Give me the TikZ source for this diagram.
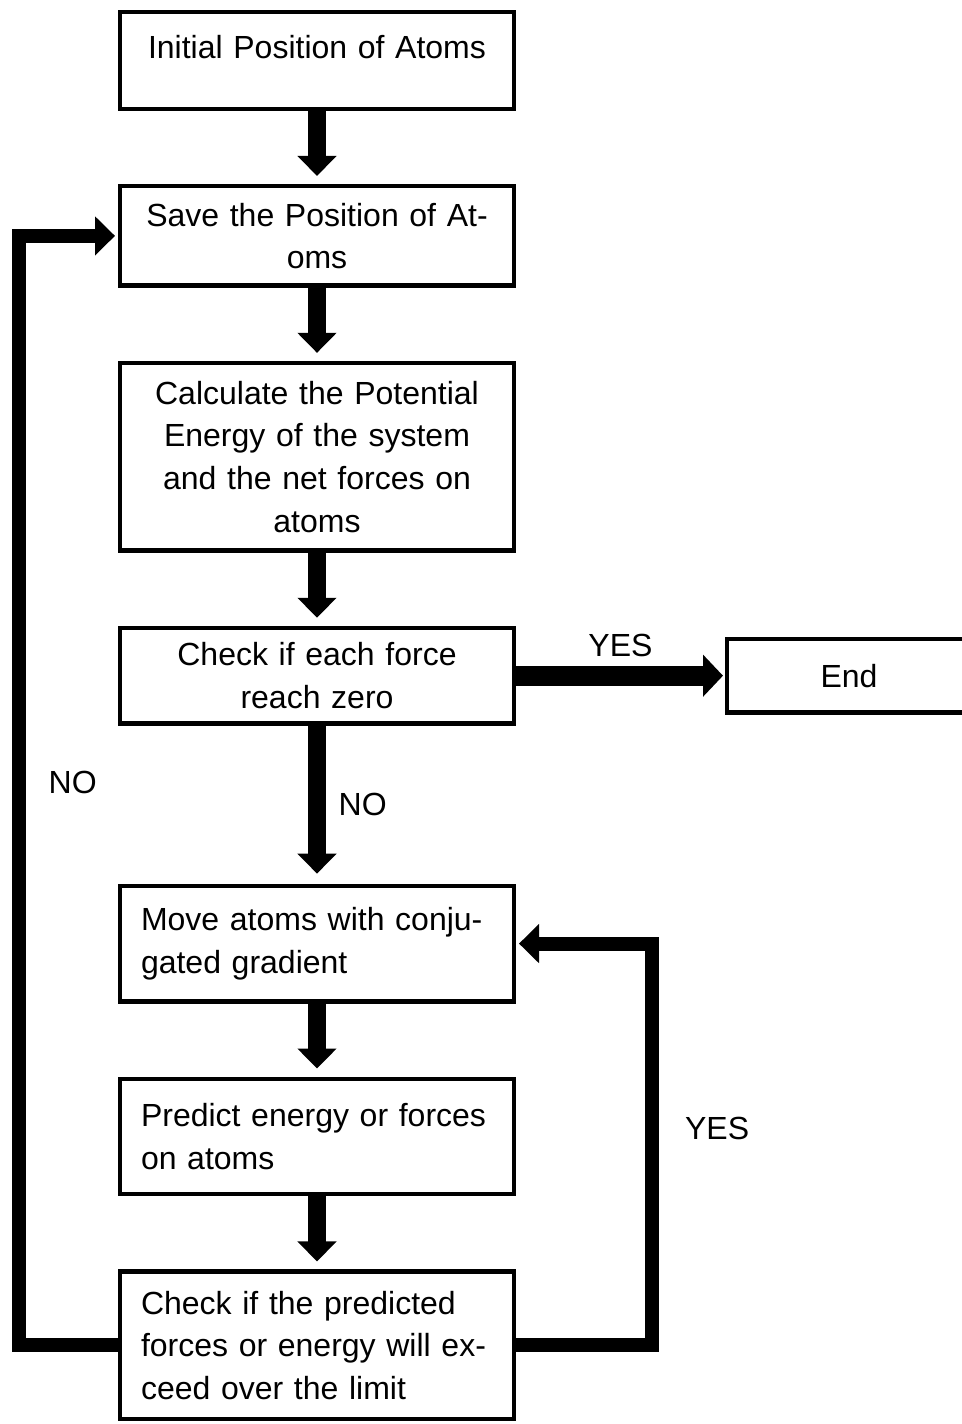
\documentclass[tikz,border=0pt]{standalone}
\usepackage{fontspec}
\setmainfont{Liberation Sans}
\usetikzlibrary{positioning, arrows.meta}
\tikzset{font=\fontsize{16}{21.3}\selectfont, node distance=36.5pt,
  box/.style={draw, line width=2.2pt, text width=176pt, inner xsep=10.4pt, align=center},
  flow/.style={line width=9pt, -{Triangle[width=19pt, length=10pt]}, shorten >=4pt},
  yesflow/.style={line width=10pt, -{Triangle[width=20.5pt, length=10pt]}, shorten >=1pt},
  loopflow/.style={line width=7pt, -{Triangle[width=19pt, length=10pt]}, shorten >=1.5pt}}

\begin{document}
\begin{tikzpicture}
	\useasboundingbox (0,0) rectangle (481pt,-712pt);
	\node[box, minimum height=48.25pt, inner ysep=0pt, text height=23.1pt, text depth=25.1pt] (Init) at (158.5pt,-30.25pt) {Initial Position of Atoms};
	\node[box, minimum height=49.75pt, below=of Init] (Save) {Save the Position of At-\\oms};
	\node[box, minimum height=93.75pt, below=of Save] (Calc) {Calculate the Potential\\Energy of the system\\and the net forces on\\atoms};
	\node[box, minimum height=47.75pt, below=of Calc] (Check) {Check if each force\\reach zero};
	\node[box, minimum height=36.75pt, text width=101pt, right=104.5pt of Check] (End) {End};
	\node[box, minimum height=57.75pt, align=left, below=79pt of Check] (Move) {Move atoms with conju-\\gated gradient};
	\node[box, minimum height=57.75pt, align=left, below=of Move] (Predict) {Predict energy or forces\\on atoms};
	\node[box, minimum height=73.75pt, align=left, below=of Predict] (Limit) {Check if the predicted\\forces or energy will ex-\\ceed over the limit};
	\coordinate (NoBend) at (9.5pt,-391pt);
	\coordinate (YesBend) at (326pt,-564pt);
	\draw[flow]
		(Init) edge (Save)
		(Save) edge (Calc)
		(Calc) edge (Check)
		(Check) edge[shorten >=5pt] node[right, xshift=3pt] (NoMid) {NO} (Move)
		(Move) edge (Predict)
		(Predict) edge (Limit);
	\draw[yesflow] (Check) edge node[above=1pt] (YesTop) {YES} (End);
	\draw[loopflow] (Limit.west) -| (NoBend) node[right=8pt] (NoLeft) {NO} |- (Save.west);
	\draw[loopflow] (Limit.east) -| (YesBend) node[right=9.7pt] (YesRight) {YES} |- (Move.east);
\end{tikzpicture}
\end{document}
